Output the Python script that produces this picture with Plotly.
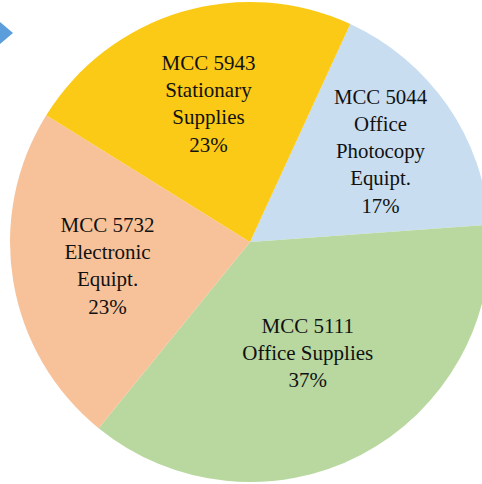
import plotly.graph_objects as go

labels = ["MCC 5044<br>Office<br>Photocopy<br>Equipt.",
          "MCC 5111<br>Office Supplies",
          "MCC 5732<br>Electronic<br>Equipt.",
          "MCC 5943<br>Stationary<br>Supplies"]
values = [17, 37, 23, 23]
colors = ["#C8DDF0", "#B8D8A0", "#F7C29A", "#FACA16"]

fig = go.Figure(go.Pie(
    labels=labels, values=values, sort=False,
    direction="clockwise", rotation=24.7,
    marker=dict(colors=colors, line=dict(width=0)),
    textinfo="label+percent", textposition="inside",
    insidetextorientation="horizontal",
    textfont=dict(family="'Liberation Serif', 'Times New Roman', serif", size=21, color="#111111"),
    showlegend=False, hoverinfo="label+percent",
))

fig.add_shape(type="path", xref="paper", yref="paper",
              path="M -0.04,0.975 L 0.00625,0.9354 L -0.04,0.896 Z",
              fillcolor="#5B9EDB", line=dict(width=0))

fig.update_layout(width=500, height=484,
                  margin=dict(l=10, r=10, t=2, b=2),
                  paper_bgcolor="white", plot_bgcolor="white")

fig.write_html("out.html", config={"displayModeBar": False},
               post_script="document.body.style.margin='0';document.body.style.overflow='hidden';document.documentElement.style.overflow='hidden';")
